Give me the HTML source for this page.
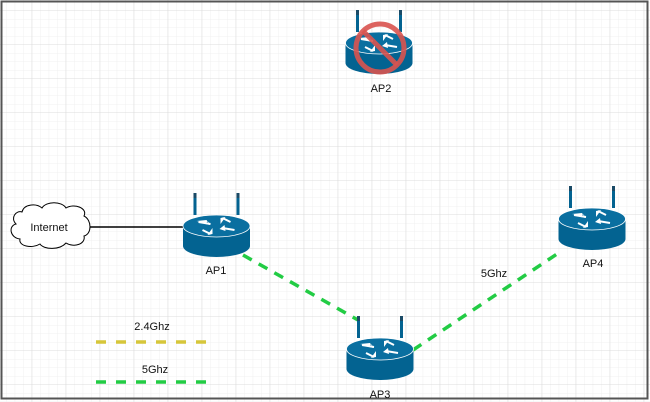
<!DOCTYPE html>
<html><head><meta charset="utf-8"><style>
html,body{margin:0;padding:0;background:#fff}
svg{display:block}
text{font-family:"Liberation Sans",sans-serif;font-size:11px;fill:#111}
</style></head><body>
<svg width="650" height="402" viewBox="0 0 650 402" xmlns="http://www.w3.org/2000/svg">
<defs>
<pattern id="minor" x="-2.3" y="2" width="8.5" height="8.5" patternUnits="userSpaceOnUse">
<path d="M0 0H8.5M0 0V8.5" stroke="#f0f0f0" stroke-width="1" fill="none"/>
</pattern>
<pattern id="major" x="-2.3" y="10.5" width="34" height="34" patternUnits="userSpaceOnUse">
<path d="M0 0H34M0 0V34" stroke="#dcdcdc" stroke-width="1" fill="none"/>
</pattern>
<g id="router">
<rect x="-23" y="-22" width="3" height="22" fill="#036391"/>
<rect x="20" y="-22" width="3" height="22" fill="#036391"/>
<rect x="-23" y="-22" width="3" height="5" fill="#1a4a66"/>
<rect x="20" y="-22" width="3" height="5" fill="#1a4a66"/>
<path d="M-33.5 11 V31 A33.5 11 0 0 0 33.5 31 V11 Z" fill="#036391"/>
<ellipse cx="0" cy="11" rx="33.5" ry="11" fill="#0a6fa0" stroke="#fff" stroke-width="0.8"/>
<g fill="#fff">
<path d="M-20 6 L-8 8 L-10 5 Z M-9 6 L-6 10 L-11 9 Z"/>
<path d="M-18 7 L-6 9" stroke="#fff" stroke-width="2"/>
<path d="M18 15 L6 13" stroke="#fff" stroke-width="2"/>
<path d="M3 14 L8 10 L9 16 Z"/>
<path d="M6 3 L14 7" stroke="#fff" stroke-width="2"/>
<path d="M4 9 L4 3 L9 2 Z"/>
<path d="M-6 19 L-14 15" stroke="#fff" stroke-width="2"/>
<path d="M-4 13 L-4 19 L-9 20 Z"/>
</g>
</g>
</defs>
<rect x="0" y="0" width="650" height="402" fill="#fff"/>
<rect x="0" y="0" width="650" height="402" fill="url(#minor)"/>
<rect x="0" y="0" width="650" height="402" fill="url(#major)"/>
<rect x="1.5" y="1.5" width="646" height="397" fill="none" stroke="#555" stroke-width="2"/>

<!-- connectors -->
<line x1="88" y1="227" x2="184" y2="227" stroke="#000" stroke-width="1.5"/>
<line x1="243" y1="255" x2="358" y2="320" stroke="#22cc44" stroke-width="3.5" stroke-dasharray="10,8"/>
<line x1="413" y1="350" x2="560" y2="252" stroke="#22cc44" stroke-width="3.5" stroke-dasharray="10,8"/>
<line x1="96" y1="342" x2="209" y2="342" stroke="#d6c63a" stroke-width="3.5" stroke-dasharray="10,10"/>
<line x1="96" y1="382" x2="209" y2="382" stroke="#22cc44" stroke-width="3.5" stroke-dasharray="10,10"/>

<!-- cloud -->
<path d="M22 212 C24 204 36 203 42 208 C46 201 62 201 66 208 C74 203 88 208 84 216 C92 220 92 234 84 236 C86 244 74 248 66 243 C60 250 44 250 40 244 C32 249 18 246 20 239 C10 238 8 226 16 224 C10 218 16 210 22 212 Z" fill="#fff" stroke="#000" stroke-width="1"/>
<text x="49" y="231" text-anchor="middle" font-size="10">Internet</text>

<use href="#router" x="216.5" y="215"/>
<use href="#router" x="380" y="338"/>
<use href="#router" x="592" y="208"/>
<use href="#router" x="379" y="32"/>

<!-- prohibition -->
<circle cx="380" cy="48" r="24" fill="none" stroke="#d9534f" stroke-opacity="0.9" stroke-width="5"/>
<line x1="363" y1="31" x2="397" y2="65" stroke="#d9534f" stroke-opacity="0.9" stroke-width="5"/>

<text x="216" y="274" text-anchor="middle">AP1</text>
<text x="381" y="92" text-anchor="middle">AP2</text>
<text x="380" y="398" text-anchor="middle">AP3</text>
<text x="593" y="267" text-anchor="middle">AP4</text>
<text x="494" y="277" text-anchor="middle">5Ghz</text>
<text x="152" y="330" text-anchor="middle" font-size="12">2.4Ghz</text>
<text x="155" y="373" text-anchor="middle" font-size="12">5Ghz</text>
</svg>
</body></html>
